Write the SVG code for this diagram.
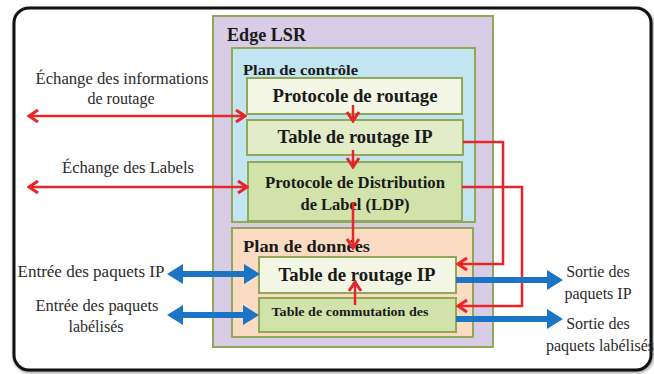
<svg xmlns="http://www.w3.org/2000/svg" width="654" height="374" viewBox="0 0 654 374">
  <style>
    .frame { fill: #ffffff; stroke: #111111; stroke-width: 3; }
    .box { stroke: #8fa956; stroke-width: 2; }
    .lsr { fill: #d8cce6; }
    .ctrl { fill: #c3e5f1; }
    .data { fill: #fbdcc3; }
    .pale { fill: #f4f7e6; }
    .mid { fill: #e2ecc8; }
    .green { fill: #d2e2ab; }
    .title { font-family: 'Liberation Serif', 'Times New Roman', Tinos, 'DejaVu Serif', serif; font-weight: bold; fill: #1a1a1a; }
    .lbl { font-family: 'Liberation Serif', 'Times New Roman', Tinos, 'DejaVu Serif', serif; font-size: 16px; fill: #2b2b2b; }
    .red { stroke: #e8252b; stroke-width: 2.5; fill: none; }
    .blue { stroke: #1b74c4; stroke-width: 6; fill: none; }
  </style>
  <defs>
    <marker id="redHead" markerUnits="userSpaceOnUse" viewBox="-12 -8 14 16" markerWidth="14" markerHeight="16" refX="0" refY="0" orient="auto-start-reverse">
      <path d="M-9,-6 L0,0 L-9,6" fill="none" stroke="#e8252b" stroke-width="3" stroke-linejoin="miter"/>
    </marker>
    <marker id="blueHead" markerUnits="userSpaceOnUse" viewBox="0 -10 17 20" markerWidth="17" markerHeight="20" refX="0" refY="0" orient="auto-start-reverse">
      <path d="M0,-10 L16,0 L0,10 Z" fill="#1b74c4"/>
    </marker>
    <filter id="soft" x="-5%" y="-5%" width="110%" height="110%">
      <feGaussianBlur stdDeviation="1.5"/>
    </filter>
  </defs>

  <!-- outer frame -->
  <rect x="15" y="10" width="637" height="361" rx="15" fill="none" stroke="#999999" stroke-width="4" filter="url(#soft)"/>
  <rect class="frame" x="14" y="8" width="637" height="362" rx="15"/>

  <!-- Edge LSR container -->
  <g id="edge-lsr">
    <rect class="box lsr" x="213" y="16" width="280" height="331"/>
    <text class="title" x="227" y="41" font-size="18" textLength="79" lengthAdjust="spacingAndGlyphs">Edge LSR</text>
  </g>

  <!-- control plane -->
  <g id="plan-controle">
    <rect class="box ctrl" x="232" y="48" width="243" height="174"/>
    <text class="title" x="243" y="75" font-size="15.5" textLength="115" lengthAdjust="spacingAndGlyphs">Plan de contrôle</text>
  </g>
  <g id="protocole-routage">
    <rect class="box pale" x="247" y="78" width="215" height="36"/>
    <text class="title" x="355" y="102" font-size="18" text-anchor="middle" textLength="165" lengthAdjust="spacingAndGlyphs">Protocole de routage</text>
  </g>
  <g id="table-routage-ctrl">
    <rect class="box mid" x="247" y="120" width="216" height="35"/>
    <text class="title" x="355" y="143" font-size="18" text-anchor="middle" textLength="155" lengthAdjust="spacingAndGlyphs">Table de routage IP</text>
  </g>
  <g id="ldp">
    <rect class="box green" x="248" y="162" width="214" height="59"/>
    <text class="title" x="355" y="188" font-size="16.5" text-anchor="middle" textLength="180" lengthAdjust="spacingAndGlyphs">Protocole de Distribution</text>
    <text class="title" x="355" y="210" font-size="16.5" text-anchor="middle">de Label (LDP)</text>
  </g>

  <!-- data plane -->
  <g id="plan-donnees">
    <rect class="box data" x="232" y="228" width="241" height="109"/>
    <text class="title" x="243" y="252" font-size="16.5" textLength="127" lengthAdjust="spacingAndGlyphs">Plan de données</text>
  </g>
  <g id="table-routage-data">
    <rect class="box pale" x="259" y="257" width="197" height="36"/>
    <text class="title" x="357" y="281" font-size="18.5" text-anchor="middle" textLength="157" lengthAdjust="spacingAndGlyphs">Table de routage IP</text>
  </g>
  <g id="table-commutation">
    <rect class="box green" x="259" y="298" width="197" height="34"/>
    <text class="title" x="350" y="316" font-size="13" text-anchor="middle" textLength="157" lengthAdjust="spacingAndGlyphs">Table de commutation des</text>
  </g>

  <!-- side labels -->
  <g id="labels">
    <text class="lbl" x="122" y="84" text-anchor="middle" textLength="173" lengthAdjust="spacingAndGlyphs">Échange des informations</text>
    <text class="lbl" x="121" y="104" text-anchor="middle">de routage</text>
    <text class="lbl" x="128" y="173" text-anchor="middle" textLength="132" lengthAdjust="spacingAndGlyphs">Échange des Labels</text>
    <text class="lbl" x="91" y="277" text-anchor="middle" textLength="147" lengthAdjust="spacingAndGlyphs">Entrée des paquets IP</text>
    <text class="lbl" x="97" y="311" text-anchor="middle" textLength="123" lengthAdjust="spacingAndGlyphs">Entrée des paquets</text>
    <text class="lbl" x="96" y="332" text-anchor="middle">labélisés</text>
    <text class="lbl" x="598" y="277" text-anchor="middle">Sortie des</text>
    <text class="lbl" x="598" y="299" text-anchor="middle">paquets IP</text>
    <text class="lbl" x="598" y="329" text-anchor="middle">Sortie des</text>
    <text class="lbl" x="600" y="351" text-anchor="middle">paquets labélisés</text>
  </g>

  <!-- connectors -->
  <g id="connectors">
    <line class="red" x1="29" y1="116" x2="245" y2="116" marker-start="url(#redHead)" marker-end="url(#redHead)"/>
    <line class="red" x1="29" y1="187" x2="247" y2="187" marker-start="url(#redHead)" marker-end="url(#redHead)"/>
    <line class="red" x1="353" y1="105" x2="353" y2="121" marker-end="url(#redHead)"/>
    <line class="red" x1="353" y1="150" x2="353" y2="167" marker-end="url(#redHead)"/>
    <line class="red" x1="353" y1="202" x2="353" y2="248" marker-end="url(#redHead)"/>
    <line class="red" x1="355" y1="305" x2="355" y2="282" marker-end="url(#redHead)"/>
    <polyline class="red" points="463,142 503,142 503,264 458,264" marker-end="url(#redHead)"/>
    <polyline class="red" points="462,187 522,187 522,306 458,306" marker-end="url(#redHead)"/>

    <line class="blue" x1="183" y1="274" x2="244" y2="274" marker-start="url(#blueHead)" marker-end="url(#blueHead)"/>
    <line class="blue" x1="183" y1="315" x2="243" y2="315" marker-start="url(#blueHead)" marker-end="url(#blueHead)"/>
    <line class="blue" x1="456" y1="280" x2="547" y2="280" marker-end="url(#blueHead)"/>
    <line class="blue" x1="456" y1="319" x2="547" y2="319" marker-end="url(#blueHead)"/>
  </g>
</svg>
